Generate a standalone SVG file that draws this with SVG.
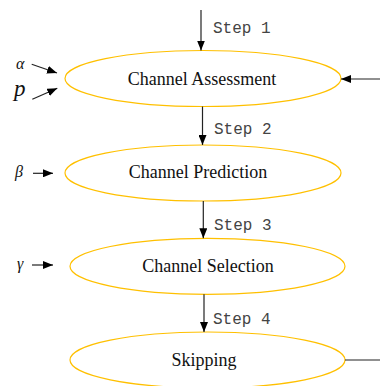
<svg xmlns="http://www.w3.org/2000/svg" width="380" height="386" viewBox="0 0 380 386">
<defs>
<marker id="ah" viewBox="0 0 10 8" refX="10" refY="4" markerWidth="10" markerHeight="8" markerUnits="userSpaceOnUse" orient="auto">
<path d="M0,0 L10,4 L0,8 Z" fill="#000"/>
</marker>
<style>
.node ellipse{fill:#fff;stroke:#FFC000;stroke-width:1.2}
.node text{font-family:"Liberation Serif","Times New Roman",serif;font-size:18px;fill:#111;text-anchor:middle}
.conn line{stroke:#222;stroke-width:1.2}
.arr{marker-end:url(#ah)}
.step{font-family:"Liberation Mono","Courier New",monospace;font-size:16px;fill:#444}
.greek{font-family:"Liberation Serif","Times New Roman",serif;font-style:italic;fill:#111}
</style>
</defs>
<rect width="380" height="386" fill="#fff"/>
<g id="n1" class="node"><ellipse cx="203" cy="78.5" rx="138" ry="28"/><text x="202" y="85">Channel Assessment</text></g>
<g id="n2" class="node"><ellipse cx="203" cy="173" rx="138" ry="28"/><text x="198" y="178">Channel Prediction</text></g>
<g id="n3" class="node"><ellipse cx="207.5" cy="266.3" rx="137.5" ry="28"/><text x="208" y="272">Channel Selection</text></g>
<g id="n4" class="node"><ellipse cx="207.5" cy="360" rx="137.5" ry="28"/><text x="204" y="366">Skipping</text></g>
<g id="connectors" class="conn">
<line class="arr" x1="201" y1="10" x2="201" y2="50.5"/>
<line class="arr" x1="202.5" y1="106.5" x2="202.5" y2="145"/>
<line class="arr" x1="203.3" y1="201" x2="203.3" y2="238.3"/>
<line class="arr" x1="204" y1="294.3" x2="204" y2="332"/>
<line class="arr" x1="380" y1="79" x2="341" y2="79"/>
<line x1="345" y1="360" x2="380" y2="360" stroke="#000"/>
<line class="arr" x1="31.7" y1="64.3" x2="57" y2="73"/>
<line class="arr" x1="32.3" y1="99.3" x2="57.3" y2="88.3"/>
<line class="arr" x1="33" y1="173.3" x2="53" y2="173.3"/>
<line class="arr" x1="32" y1="265" x2="53" y2="265"/>
</g>
<g id="labels">
<text class="step" x="213" y="33">Step 1</text>
<text class="step" x="214" y="134">Step 2</text>
<text class="step" x="214" y="230">Step 3</text>
<text class="step" x="213" y="324">Step 4</text>
<text class="greek" x="16" y="69" font-size="16">α</text>
<text class="greek" x="14" y="96" font-size="23">p</text>
<text class="greek" x="15" y="177" font-size="16">β</text>
<text class="greek" x="17" y="269" font-size="16">γ</text>
</g>
</svg>
